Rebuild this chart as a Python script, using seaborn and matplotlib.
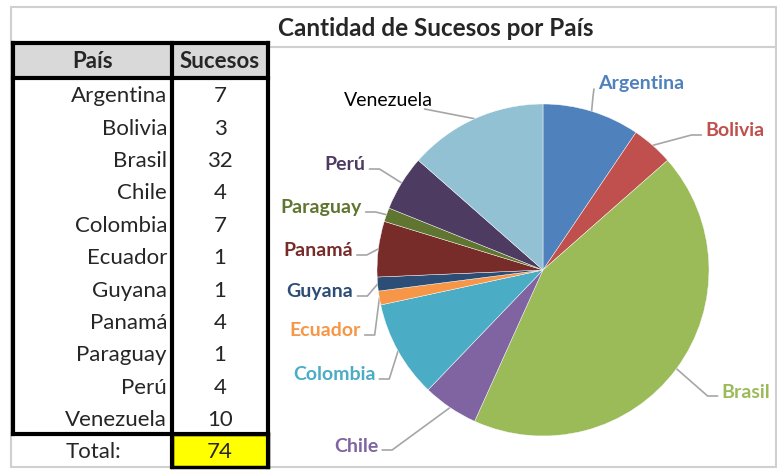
import numpy as np
import seaborn as sns
import matplotlib
matplotlib.use("Agg")
from matplotlib import pyplot as plt
from matplotlib.patches import Rectangle

paises = ["Argentina", "Bolivia", "Brasil", "Chile", "Colombia", "Ecuador",
          "Guyana", "Panamá", "Paraguay", "Perú", "Venezuela"]
sucesos = [7, 3, 32, 4, 7, 1, 1, 4, 1, 4, 10]
colores = ["#4F81BD", "#C0504D", "#9BBB59", "#8064A2", "#4BACC6", "#F79646",
           "#2C4D75", "#772C2A", "#5F7530", "#4D3B62", "#93C1D4"]
titulo = "Cantidad de Sucesos por País"

sns.set_theme(style="white")
plt.rcParams['font.family'] = ['Lato', 'DejaVu Sans']

W, H = 777, 470
fig = plt.figure(figsize=(W / 100, H / 100), dpi=100)

# lienzo en pixeles para la tabla, marcos y etiquetas
bg = fig.add_axes([0, 0, 1, 1])
bg.set_xlim(0, W)
bg.set_ylim(H, 0)
bg.axis("off")

gris = "#D0D0D0"
bg.add_patch(Rectangle((10.5, 7), 765, 460, fill=False, ec=gris, lw=1.5))
bg.plot([270, 776], [47, 47], color=gris, lw=1.5)
bg.text(436, 28, titulo, ha="center", va="center", fontsize=17.5, fontweight="bold")

# tabla
top, row_h = 43, 32.4
x0, xm, x1 = 13, 172, 268
bg.add_patch(Rectangle((x0, top), x1 - x0, 35, fc="#D9D9D9", ec="none"))
bg.text((x0 + xm) / 2, 62, "País", ha="center", va="center", fontsize=16, fontweight="bold")
bg.text((xm + x1) / 2, 62, "Sucesos", ha="center", va="center", fontsize=16, fontweight="bold")
y_start = 78
for i, (p, s) in enumerate(zip(paises, sucesos)):
    yc = y_start + row_h * (i + 0.5) + 2
    bg.text(167, yc, p, ha="right", va="center", fontsize=16)
    bg.text((xm + x1) / 2, yc, str(s), ha="center", va="center", fontsize=16)
y_tot = y_start + row_h * len(paises)
bg.add_patch(Rectangle((xm, y_tot), x1 - xm, 467 - y_tot, fc="#FFFF00", ec="black", lw=2.5))
bg.text(93, y_tot + 18, "Total:", ha="center", va="center", fontsize=16)
bg.text((xm + x1) / 2, y_tot + 18, str(sum(sucesos)), ha="center", va="center", fontsize=16)

negro = dict(color="black", lw=3, solid_capstyle="projecting")
bg.plot([x0, x1], [top, top], **negro)
bg.plot([x0, x1], [78, 78], **negro)
bg.plot([x0, x1], [y_tot, y_tot], **negro)
bg.plot([x0, x0], [top, y_tot], **negro)
bg.plot([x1, x1], [top, 467], **negro)
bg.plot([xm, xm], [top, 467], **negro)

# grafico circular
cx, cy, r = 543, 270, 166
ax = fig.add_axes([(cx - r) / W, (H - cy - r) / H, 2 * r / W, 2 * r / H])
wedges, _ = ax.pie(sucesos, colors=colores, startangle=90, counterclock=False,
                   radius=1, wedgeprops=dict(ec="white", lw=0.3))
ax.set_xlim(-1, 1)
ax.set_ylim(-1, 1)
ax.set_aspect("auto")
ax.axis("off")

# centro de cada etiqueta (pixeles)
pos_txt = {
    "Argentina": (641, 83), "Bolivia": (735, 131), "Brasil": (746, 392),
    "Chile": (356, 446), "Colombia": (334, 375), "Ecuador": (325, 331),
    "Guyana": (320, 292), "Panamá": (318, 251), "Paraguay": (321, 208),
    "Perú": (345, 165), "Venezuela": (388, 100),
}
textos = []
for p, c in zip(paises, colores):
    px, py = pos_txt[p]
    col, fw = ("black", "normal") if p == "Venezuela" else (c, "bold")
    textos.append(bg.text(px, py, p, ha="center", va="center", fontsize=14,
                          color=col, fontweight=fw))

fig.canvas.draw()
ren = fig.canvas.get_renderer()
linea = dict(color="#A6A6A6", lw=1.2)
for w, p, t in zip(wedges, paises, textos):
    ang = np.deg2rad((w.theta1 + w.theta2) / 2)
    ex, ey = cx + r * np.cos(ang), cy - r * np.sin(ang)
    bb = t.get_window_extent(ren)
    left, right = bb.x0, bb.x1
    ymid = H - (bb.y0 + bb.y1) / 2 + 4
    if p == "Argentina":
        bg.plot([left - 4, left - 5, ex], [ymid + 2, ymid + 10, ey], **linea)
    elif p == "Venezuela":
        bg.plot([right - 8, ex], [ymid + 5, ey], **linea)
    elif ex > cx:
        bg.plot([left - 4, left - 14, ex], [ymid, ymid, ey], **linea)
    else:
        bg.plot([right + 4, right + 14, ex], [ymid, ymid, ey], **linea)

fig.savefig("out.png", dpi=100)
